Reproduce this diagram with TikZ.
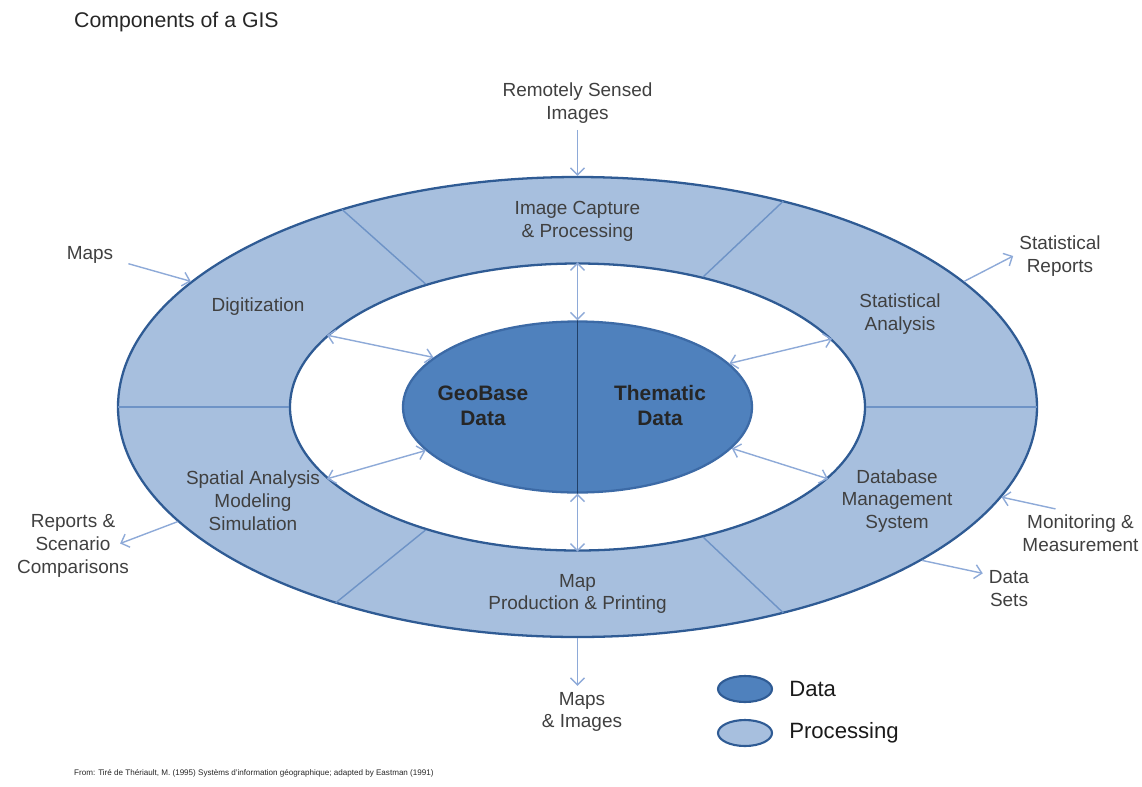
\documentclass[tikz,border=0pt]{standalone}
\usepackage{fontspec}
\setmainfont{Liberation Sans}
\usepackage[HTML]{xcolor}
\usepackage{tikz}
\usetikzlibrary{positioning, arrows.meta, shapes.geometric, calc}

\definecolor{procfill}{HTML}{A7BFDE}
\definecolor{ringline}{HTML}{2F5B94}
\definecolor{datafill}{HTML}{4F81BD}
\definecolor{dataline}{HTML}{3C6AA6}
\definecolor{sepline}{HTML}{6E93C6}
\definecolor{flow}{HTML}{8EAAD8}
\definecolor{txt}{HTML}{404040}

\begin{document}
\begin{tikzpicture}[
  blob/.style={ellipse, inner sep=0pt, line width=1.3pt, draw=ringline},
  ringtxt/.style={align=center, text=txt, font=\fontsize{10.8}{13}\selectfont},
  datatxt/.style={align=center, text=black!85, font=\fontsize{11.9}{14.2}\selectfont\bfseries},
  keytxt/.style={text=black!90, font=\fontsize{12.6}{15}\selectfont},
  flowline/.style={draw=flow, line width=0.8pt, -{Straight Barb[length=1.4mm,width=2.8mm]}},
  twoway/.style={flowline, {Straight Barb[length=1.4mm,width=2.8mm]}-{Straight Barb[length=1.4mm,width=2.8mm]}}]
\useasboundingbox (-11.55,-7.58) rectangle (11.29,8.14);

% Processing ring with white hole
\node[blob, fill=procfill, minimum width=18.38cm, minimum height=9.2cm] (ring) at (0,0) {};
\node[blob, fill=white, minimum width=11.5cm, minimum height=5.74cm] (hole) at (0,0) {};
\foreach \a/\b in {141/140, 46/45, 180/180, 0/0, 219/219, -46/-45}
  \draw[sepline, line width=0.8pt, shorten >=0.6pt] (hole.\a) -- (ring.\b);

% Data core, split in two halves
\node[blob, fill=datafill, draw=dataline, minimum width=6.98cm, minimum height=3.42cm] (core) at (0,0) {};
\draw[ringline!70!black, line width=0.6pt] (core.north) -- (core.south);
\node[datatxt] (geo) at (-1.89,0.03) {GeoBase\\Data};
\node[datatxt] (them) at (1.65,0.03) {Thematic\\Data};

% Two-way links between ring and core
\foreach \h/\c in {164/161, 196/196, 15/16, -16/-15}
  \draw[twoway] (hole.\h) -- (core.\c);
\draw[twoway] (hole.north) -- (core.north);
\draw[twoway] (core.south) -- (hole.south);

% Steps in the ring
\node[ringtxt] (capture) at (0,3.71) {Image Capture\\\& Processing};
\node[ringtxt] (digit) at (-6.39,2.0) {Digitization};
\node[ringtxt] (stats) at (6.45,1.85) {Statistical\\Analysis};
\node[ringtxt] (spatial) at (-6.49,-1.88) {Spatial Analysis\\Modeling\\Simulation};
\node[ringtxt] (dbms) at (6.39,-1.88) {Database\\Management\\System};
\node[ringtxt] (mapprod) at (0,-3.74) {Map\\Production \& Printing};

% Inputs and outputs
\node[ringtxt] (rsi) at (0,6.07) {Remotely Sensed\\Images};
\draw[flowline] (rsi) -- (ring.north);
\node[ringtxt] (maps) at (-9.75,3.04) {Maps};
\draw[flowline] ($(maps.south east)+(0.18,0.12)$) -- (ring.162);
\node[ringtxt] (statrep) at (9.65,3.02) {Statistical\\Reports};
\draw[flowline] (ring.18) -- (statrep.west);
\node[ringtxt] (scen) at (-10.09,-2.78) {Reports \&\\Scenario\\Comparisons};
\draw[flowline] (ring.196) -- ($(scen.east)+(-0.3,0.05)$);
\node[ringtxt] (monit) at (10.06,-2.53) {Monitoring \&\\Measurement};
\draw[flowline] ($(monit.north)+(-0.5,0)$) -- (ring.-12);
\node[ringtxt] (dsets) at (8.63,-3.63) {Data\\Sets};
\draw[flowline] (ring.-24) -- (dsets.150);
\node[ringtxt] (mapimg) at (0.09,-6.1) {Maps\\\& Images};
\draw[flowline] (ring.south) -- (ring.south |- mapimg.north);

% Legend
\node[blob, fill=datafill, line width=1.2pt, minimum width=1.08cm, minimum height=0.52cm] (keydata) at (3.35,-5.64) {};
\node[blob, fill=procfill, line width=1.2pt, minimum width=1.08cm, minimum height=0.52cm] (keyproc) at (3.35,-6.52) {};
\node[keytxt, right=0.2cm of keydata] (datakey) {Data};
\node[keytxt, right=0.2cm of keyproc] (prockey) {Processing};

% Title and source
\node[anchor=west, text=black!85, font=\fontsize{12.1}{14}\selectfont] (title) at (-10.19,7.7) {Components of a GIS};
\node[anchor=west, text=black!85, font=\fontsize{4.6}{5.5}\selectfont] (src) at (-10.19,-7.32) {From: Tiré de Thériault, M. (1995) Systèms d'information géographique; adapted by Eastman (1991)};
\end{tikzpicture}
\end{document}
